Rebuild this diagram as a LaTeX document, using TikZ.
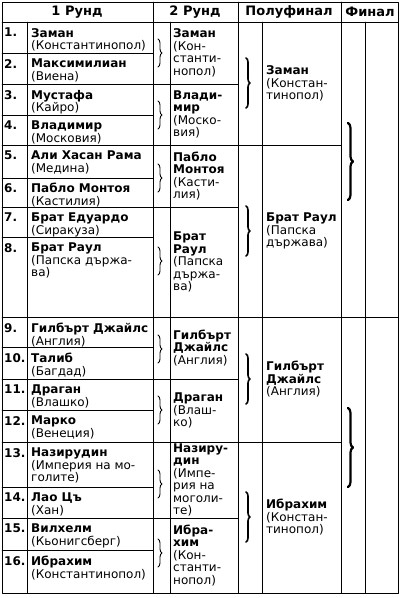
\documentclass[tikz,border=0pt]{standalone}
\usepackage{fontspec}
\setmainfont{DejaVu Sans}
\usetikzlibrary{decorations.pathreplacing}

\tikzset{
  player/.style={anchor=north west, inner sep=0pt, align=left},
  seed/.style={anchor=north west, inner sep=0pt, font=\fontsize{12}{12.5}\selectfont\bfseries},
  winner/.style={anchor=west, inner sep=0pt, align=left},
  head/.style={inner sep=0pt, font=\fontsize{13}{13}\selectfont\bfseries},
  brc/.style={decorate, decoration={brace, amplitude=4pt}},
}
\newcommand{\nm}[1]{\textbf{#1}}

\begin{document}
\begin{tikzpicture}[x=1pt, y=-1pt, font=\fontsize{12}{12.5}\selectfont, line join=round, line cap=round]
	\useasboundingbox (0,0) rectangle (400,598);
	% frame and rulings
	\draw (2,2) rectangle (398,593);
	\draw (2,22)--(398,22);
	\draw (2,317)--(398,317);
	\foreach \y in {53,115,178,237,347,410,487,550} \draw (2,\y)--(153,\y);
	\foreach \y in {84,207,379,518} \draw (2,\y)--(238,\y);
	\foreach \y in {145,442} \draw (2,\y)--(341,\y);
	\foreach \x in {153,238,341} \draw (\x,2)--(\x,593);
	\foreach \x in {27,170,262,365} \draw (\x,22)--(\x,593);
	% header
	\node[head] (h1) at (77,12) {1 Рунд};
	\node[head] (h2) at (195,12) {2 Рунд};
	\node[head] (h3) at (289,12) {Полуфинал};
	\node[head] (h4) at (370,12) {Финал};
	% round 1
	\node[seed] (n1) at (4,28) {1.};
	\node[player] (p1) at (31,28) {\nm{Заман}\\(Константинопол)};
	\node[seed] (n2) at (4,59) {2.};
	\node[player] (p2) at (31,59) {\nm{Максимилиан}\\(Виена)};
	\node[seed] (n3) at (4,90) {3.};
	\node[player] (p3) at (31,90) {\nm{Мустафа}\\(Кайро)};
	\node[seed] (n4) at (4,121) {4.};
	\node[player] (p4) at (31,121) {\nm{Владимир}\\(Московия)};
	\node[seed] (n5) at (4,151) {5.};
	\node[player] (p5) at (31,151) {\nm{Али Хасан Рама}\\(Медина)};
	\node[seed] (n6) at (4,183) {6.};
	\node[player] (p6) at (31,183) {\nm{Пабло Монтоя}\\(Кастилия)};
	\node[seed] (n7) at (4,213) {7.};
	\node[player] (p7) at (31,213) {\nm{Брат Едуардо}\\(Сиракуза)};
	\node[seed] (n8) at (4,243) {8.};
	\node[player] (p8) at (31,243) {\nm{Брат Раул}\\(Папска държа-\\ва)};
	\node[seed] (n9) at (4,323) {9.};
	\node[player] (p9) at (31,323) {\nm{Гилбърт Джайлс}\\(Англия)};
	\node[seed] (n10) at (4,353) {10.};
	\node[player] (p10) at (31,353) {\nm{Талиб}\\(Багдад)};
	\node[seed] (n11) at (4,385) {11.};
	\node[player] (p11) at (31,385) {\nm{Драган}\\(Влашко)};
	\node[seed] (n12) at (4,416) {12.};
	\node[player] (p12) at (31,416) {\nm{Марко}\\(Венеция)};
	\node[seed] (n13) at (4,448) {13.};
	\node[player] (p13) at (31,448) {\nm{Назирудин}\\(Империя на мо-\\голите)};
	\node[seed] (n14) at (4,493) {14.};
	\node[player] (p14) at (31,493) {\nm{Лао Цъ}\\(Хан)};
	\node[seed] (n15) at (4,524) {15.};
	\node[player] (p15) at (31,524) {\nm{Вилхелм}\\(Кьонигсберг)};
	\node[seed] (n16) at (4,556) {16.};
	\node[player] (p16) at (31,556) {\nm{Ибрахим}\\(Константинопол)};
	% braces of round 1
	\foreach \y in {53,115,178,261,349,410,484,553}
		\draw[brc, line width=0.9pt] (158,\y-14)--(158,\y+14);
	% round 2
	\node[winner] (q1) at (173,53) {\nm{Заман}\\(Кон-\\станти-\\нопол)};
	\node[winner] (q2) at (173,114.5) {\nm{Влади-}\\\nm{мир}\\(Моско-\\вия)};
	\node[winner] (q3) at (173,176) {\nm{Пабло}\\\nm{Монтоя}\\(Касти-\\лия)};
	\node[winner] (q4) at (173,262) {\nm{Брат}\\\nm{Раул}\\(Папска\\държа-\\ва)};
	\node[winner] (q5) at (173,348) {\nm{Гилбърт}\\\nm{Джайлс}\\(Англия)};
	\node[winner] (q6) at (173,410.5) {\nm{Драган}\\(Влаш-\\ко)};
	\node[winner] (q7) at (173,480) {\nm{Назиру-}\\\nm{дин}\\(Импе-\\рия на\\моголи-\\те)};
	\node[winner] (q8) at (173,555.5) {\nm{Ибра-}\\\nm{хим}\\(Кон-\\станти-\\нопол)};
	% braces of round 2
	\foreach \y in {83,231,379,517}
		\draw[brc, line width=1.6pt] (246,\y-25)--(246,\y+25);
	% semifinal
	\node[winner] (s1) at (266,83.5) {\nm{Заман}\\(Констан-\\тинопол)};
	\node[winner] (s2) at (266,231) {\nm{Брат Раул}\\(Папска\\държава)};
	\node[winner] (s3) at (266,379.5) {\nm{Гилбърт}\\\nm{Джайлс}\\(Англия)};
	\node[winner] (s4) at (266,517.5) {\nm{Ибрахим}\\(Констан-\\тинопол)};
	% final
	\draw[brc, line width=2.2pt, decoration={amplitude=5pt}] (348,123)--(348,200);
	\draw[brc, line width=2.2pt, decoration={amplitude=5pt}] (348,408)--(348,487);
\end{tikzpicture}
\end{document}
